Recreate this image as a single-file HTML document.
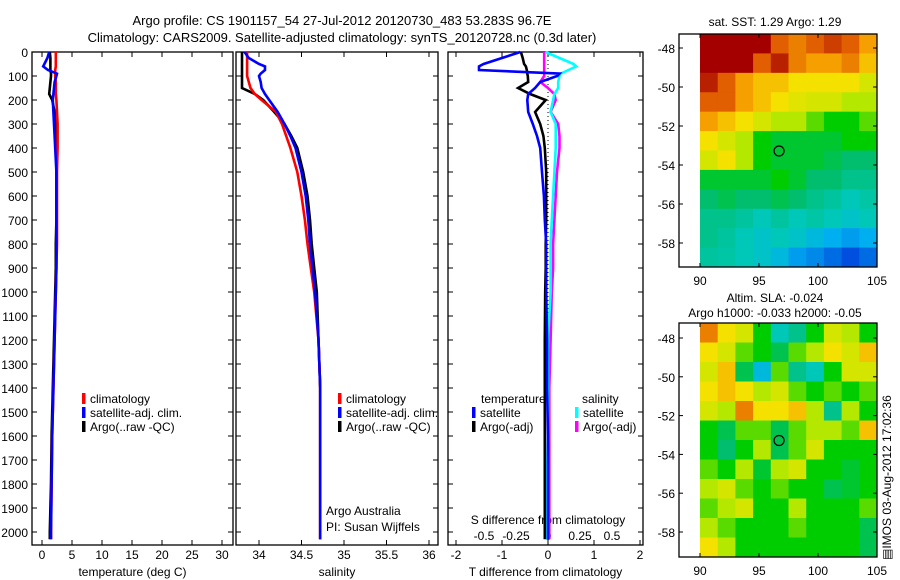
<!DOCTYPE html>
<html><head><meta charset="utf-8"><style>
body{margin:0;background:#fff;}
svg{display:block;font-family:"Liberation Sans",sans-serif;}
</style></head><body>
<svg id="chart" width="900" height="580" viewBox="0 0 900 580">
<text x="342" y="25" font-size="13" text-anchor="middle">Argo profile: CS 1901157_54 27-Jul-2012 20120730_483 53.283S 96.7E</text>
<text x="342" y="42" font-size="13" text-anchor="middle">Climatology: CARS2009. Satellite-adjusted climatology: synTS_20120728.nc (0.3d later)</text>
<g id="plots"></g>
</svg>
<script>
const depths=[0,25,50,60,75,90,100,125,150,175,200,250,300,350,400,500,600,700,800,900,1000,1200,1400,1600,1800,2000,2030];
const tempClim=[2.3,2.3,2.3,2.3,2.2,2.2,2.2,2.3,2.3,2.3,2.4,2.5,2.6,2.6,2.6,2.5,2.5,2.5,2.5,2.4,2.3,2.1,1.9,1.7,1.6,1.5,1.5];
const tempArgo=[1.3,1.4,1.4,1.4,1.4,1.5,1.5,1.4,1.3,1.2,1.7,2.1,2.3,2.4,2.4,2.4,2.4,2.4,2.3,2.3,2.2,2.0,1.8,1.6,1.5,1.3,1.3];
const tempSat=[1.2,0.9,0.4,0.2,1.0,2.5,2.4,2.1,2.0,1.9,1.8,1.9,2.0,2.1,2.2,2.4,2.4,2.4,2.4,2.4,2.3,2.1,1.9,1.7,1.6,1.5,1.5];
const salClim=[33.86,33.86,33.86,33.86,33.86,33.86,33.86,33.88,33.9,33.95,34.03,34.2,34.27,34.32,34.37,34.45,34.5,34.54,34.57,34.61,34.65,34.7,34.72,34.72,34.72,34.72,34.72];
const salArgo=[33.8,33.8,33.8,33.8,33.8,33.8,33.8,33.8,33.8,33.95,34.05,34.18,34.3,34.38,34.45,34.52,34.57,34.6,34.62,34.65,34.68,34.7,34.72,34.72,34.72,34.72,34.72];
const salSat=[33.83,33.88,34.0,34.07,34.07,34.02,34.0,34.02,34.03,34.07,34.12,34.22,34.3,34.37,34.43,34.5,34.55,34.58,34.6,34.63,34.66,34.7,34.72,34.72,34.72,34.72,34.72];
const dTsat=[-0.6,-1.0,-1.4,-1.5,-1.5,0.25,0.2,-0.17,-0.28,-0.43,-0.45,-0.43,-0.33,-0.24,-0.17,-0.13,-0.09,-0.07,-0.04,-0.04,-0.04,-0.02,-0.02,0,0,0,0];
const dTargo=[-0.59,-0.55,-0.52,-0.48,-0.46,-0.45,-0.44,-0.43,-0.65,-0.39,-0.05,-0.28,-0.17,-0.1,-0.07,-0.04,-0.04,-0.04,-0.05,-0.05,-0.06,-0.07,-0.07,-0.07,-0.07,-0.07,-0.07];
const dSsat=[-0.02,0.09,0.2,0.22,0.16,0.1,0.09,0.08,0.08,0.05,0.04,0.02,0.06,0.06,0.06,0.05,0.04,0.03,0.02,0.02,0.02,0.0,0.0,0.0,-0.01,-0.01,-0.01];
const dSargo=[-0.03,-0.03,-0.03,-0.03,-0.03,-0.03,-0.03,-0.06,0.0,0.05,0.06,0.02,0.08,0.09,0.09,0.07,0.06,0.05,0.04,0.04,0.03,0.02,0.01,0.01,0.01,0.01,0.01];
const depthTicks=[0,100,200,300,400,500,600,700,800,900,1000,1100,1200,1300,1400,1500,1600,1700,1800,1900,2000];
const tempTicks=[0,5,10,15,20,25,30];
const salTicks=[34,34.5,35,35.5,36];
const dTTicks=[-2,-1,0,1,2];
const dSTicks=[-0.5,-0.25,0,0.25,0.5];
const lonTicks=[90,95,100,105];
const latTicks=[-48,-50,-52,-54,-56,-58];
const sstGrid=[
[1,1,1,1,0.85,0.8,0.85,0.9,0.85,0.75],
[1,1,1,0.85,0.95,0.8,0.75,0.75,0.8,0.7],
[0.95,0.85,0.75,0.7,0.7,0.65,0.65,0.65,0.65,0.6],
[0.85,0.85,0.75,0.7,0.65,0.62,0.6,0.6,0.55,0.55],
[0.75,0.7,0.65,0.6,0.55,0.55,0.5,0.45,0.45,0.5],
[0.65,0.6,0.55,0.45,0.42,0.42,0.42,0.42,0.45,0.45],
[0.6,0.65,0.55,0.45,0.42,0.42,0.42,0.4,0.38,0.38],
[0.42,0.42,0.42,0.42,0.45,0.42,0.38,0.38,0.35,0.35],
[0.38,0.4,0.38,0.38,0.4,0.38,0.35,0.33,0.3,0.32],
[0.35,0.35,0.33,0.3,0.33,0.3,0.32,0.3,0.28,0.3],
[0.35,0.33,0.3,0.28,0.3,0.28,0.25,0.22,0.2,0.22],
[0.33,0.32,0.3,0.28,0.25,0.2,0.18,0.15,0.12,0.15]];
const slaGrid=[
[0.8,0.65,0.6,0.45,0.3,0.35,0.45,0.6,0.55,0.45],
[0.65,0.6,0.5,0.45,0.4,0.5,0.55,0.65,0.6,0.7],
[0.6,0.7,0.4,0.25,0.5,0.35,0.3,0.45,0.6,0.6],
[0.65,0.7,0.65,0.55,0.6,0.5,0.45,0.5,0.45,0.5],
[0.6,0.55,0.8,0.65,0.65,0.7,0.55,0.35,0.55,0.45],
[0.45,0.4,0.5,0.5,0.4,0.5,0.55,0.55,0.5,0.7],
[0.45,0.38,0.45,0.55,0.4,0.5,0.6,0.45,0.45,0.45],
[0.5,0.45,0.55,0.42,0.55,0.6,0.45,0.45,0.42,0.45],
[0.55,0.6,0.5,0.45,0.5,0.45,0.45,0.4,0.42,0.45],
[0.5,0.55,0.6,0.45,0.45,0.55,0.45,0.45,0.45,0.5],
[0.55,0.5,0.45,0.45,0.45,0.5,0.45,0.45,0.45,0.4],
[0.65,0.55,0.45,0.45,0.45,0.45,0.45,0.45,0.45,0.4]];
const floatLon=96.7, floatLat=-53.283;

const NS='http://www.w3.org/2000/svg';
const root=document.getElementById('plots');
function mk(tag,attrs,parent){const e=document.createElementNS(NS,tag);for(const k in attrs)e.setAttribute(k,attrs[k]);(parent||root).appendChild(e);return e;}
const yD=d=>52+d*0.24;
const TOP=52,BOT=545;

function panel(name,x0,x1,xs,ticks,fmt,labY,title,showDepth){
  const g=mk('g',{});
  
  
  const r=mk('rect',{x:x0,y:TOP,width:x1-x0,height:BOT-TOP,fill:'none',stroke:'#000','stroke-width':1.3},g);
  
  
  depthTicks.forEach(d=>{
    mk('line',{x1:x0,x2:x0+5,y1:yD(d),y2:yD(d),stroke:'#000'},g);
    mk('line',{x1:x1,x2:x1-5,y1:yD(d),y2:yD(d),stroke:'#000'},g);
    if(showDepth){const t=mk('text',{x:x0-4,y:yD(d)+5,'font-size':12,'text-anchor':'end'},g);t.textContent=d;
      
      }
  });
  ticks.forEach(v=>{
    const x=xs(v);
    mk('line',{x1:x,x2:x,y1:TOP,y2:TOP+5,stroke:'#000'},g);
    mk('line',{x1:x,x2:x,y1:BOT,y2:BOT-5,stroke:'#000'},g);
    if(labY){const t=mk('text',{x:x,y:labY,'font-size':12,'text-anchor':'middle'},g);t.textContent=fmt(v);
      
      }
  });
  const t=mk('text',{x:(x0+x1)/2,y:576,'font-size':12,'text-anchor':'middle'},g);t.textContent=title;
  
  
  return g;
}
function line(name,vals,xs,color,w){
  const p=mk('polyline',{points:vals.map((v,i)=>xs(v).toFixed(1)+','+yD(depths[i]).toFixed(1)).join(' '),fill:'none',stroke:color,'stroke-width':w||2.6,'stroke-linejoin':'miter'});
  
  
}
function legend(items,x,y0){
  items.forEach((it,i)=>{
    const y=y0+i*14;
    const r=mk('rect',{x:x,y:y-10,width:3.5,height:11,fill:it[1]});
    
    
    const t=mk('text',{x:x+8,y:y,'font-size':12});t.textContent=it[0];
    
    
  });
}
// panel 1 temperature
const xT=v=>42+v*6;
panel('temperature-panel',32,233,xT,tempTicks,v=>v,559,'temperature (deg C)',true);
line('temp-argo',tempArgo,xT,'#000');
line('temp-climatology',tempClim,xT,'#f00');
line('temp-satellite',tempSat,xT,'#00f');
legend([['climatology','#f00'],['satellite-adj. clim.','#00f'],['Argo(..raw -QC)','#000']],82,403);
// panel 2 salinity
const xS=v=>259+(v-34)*85;
panel('salinity-panel',236,438,xS,salTicks,v=>v,559,'salinity',false);
line('sal-argo',salArgo,xS,'#000');
line('sal-climatology',salClim,xS,'#f00');
line('sal-satellite',salSat,xS,'#00f');
legend([['climatology','#f00'],['satellite-adj. clim.','#00f'],['Argo(..raw -QC)','#000']],338,403);
[['Argo Australia',515],['PI: Susan Wijffels',531]].forEach(a=>{const t=mk('text',{x:326,y:a[1],'font-size':12});t.textContent=a[0];
  
  });
// panel 3 differences
const xdT=v=>548+v*46;
const xdS=v=>548+v*128;
panel('difference-panel',448,643,xdT,dTTicks,v=>v,559,'T difference from climatology',false);
dSTicks.forEach(v=>{const t=mk('text',{x:xdS(v),y:540,'font-size':12,'text-anchor':'middle'});t.textContent=v;
  
  });
{const t=mk('text',{x:548,y:524,'font-size':12,'text-anchor':'middle'});t.textContent='S difference from climatology';
  
  }
{const l=mk('line',{x1:xdT(0),x2:xdT(0),y1:TOP,y2:BOT,stroke:'#000','stroke-dasharray':'1,3'});
  
  }
line('sal-diff-argo',dSargo,xdS,'#f0f');
line('sal-diff-satellite',dSsat,xdS,'#0ff');
line('temp-diff-argo',dTargo,xdT,'#000');
line('temp-diff-satellite',dTsat,xdT,'#00f');
{const t=mk('text',{x:481,y:403,'font-size':12});t.textContent='temperature';}
{const t=mk('text',{x:582,y:403,'font-size':12});t.textContent='salinity';}
legend([['satellite','#00f'],['Argo(-adj)','#000']],472,417);
legend([['satellite','#0ff'],['Argo(-adj)','#f0f']],575,417);

// colormap
const cstops=[[0.1,[0,60,220]],[0.22,[0,175,240]],[0.3,[0,200,185]],[0.38,[0,190,110]],[0.45,[0,205,0]],[0.55,[180,232,0]],[0.65,[245,225,0]],[0.75,[245,160,0]],[0.85,[225,95,0]],[1,[165,0,0]]];
function cmap(v){
  if(v<=cstops[0][0])return 'rgb('+cstops[0][1]+')';
  for(let i=1;i<cstops.length;i++){if(v<=cstops[i][0]){const a=cstops[i-1],b=cstops[i],f=(v-a[0])/(b[0]-a[0]);
    return 'rgb('+a[1].map((c,k)=>Math.round(c+(b[1][k]-c)*f)).join(',')+')';}}
  return 'rgb('+cstops[cstops.length-1][1]+')';
}
function map(name,grid,x0,x1,y0,y1,lat48y,lat58y,titles){
  const g=mk('g',{});
  
  
  const xL=v=>700+(v-90)*(877-700)/15;
  const yL=v=>lat48y+(-48-v)*(lat58y-lat48y)/10;
  const latTop=-48-(y0-lat48y)/((lat58y-lat48y)/10);
  const latBot=-48-(y1-lat48y)/((lat58y-lat48y)/10);
  const nr=grid.length,nc=grid[0].length,dl=(latTop-latBot)/nr;
  grid.forEach((row,i)=>row.forEach((v,j)=>{
    const xa=xL(90+j*1.5),xb=xL(90+(j+1)*1.5),ya=yL(latTop-i*dl),yb=yL(latTop-(i+1)*dl);
    const c=mk('rect',{x:xa,y:ya,width:xb-xa+0.5,height:yb-ya+0.5,fill:cmap(v)},g);
    
    
  }));
  const f=mk('rect',{x:x0,y:y0,width:x1-x0,height:y1-y0,fill:'none',stroke:'#000','stroke-width':1.3},g);
  
  
  const m=mk('circle',{cx:xL(floatLon),cy:yL(floatLat),r:5,fill:'none',stroke:'#000','stroke-width':1.2},g);
  
  
  latTicks.forEach(v=>{const y=yL(v);
    mk('line',{x1:x0,x2:x0+4,y1:y,y2:y,stroke:'#000'},g);mk('line',{x1:x1,x2:x1-4,y1:y,y2:y,stroke:'#000'},g);
    const t=mk('text',{x:x0-4,y:y+5,'font-size':12,'text-anchor':'end'},g);t.textContent=v;
    
    });
  lonTicks.forEach(v=>{const x=xL(v);
    mk('line',{x1:x,x2:x,y1:y1,y2:y1-4,stroke:'#000'},g);mk('line',{x1:x,x2:x,y1:y0,y2:y0+4,stroke:'#000'},g);
    const t=mk('text',{x:x,y:y1+18,'font-size':12,'text-anchor':'middle'},g);t.textContent=v;
    
    });
  titles.forEach(tt=>{const t=mk('text',{x:tt[1],y:tt[2],'font-size':12,'text-anchor':'middle'},g);t.textContent=tt[0];
    
    });
}
map('sst-map',sstGrid,679,877,34,267,48,243,[['sat. SST: 1.29 Argo: 1.29',775,26]]);
map('sla-map',slaGrid,679,877,323,557,338,532,[['Altim. SLA: -0.024',775,302],['Argo h1000: -0.033 h2000: -0.05',775,317]]);
{const t=mk('text',{x:0,y:0,'font-size':12,transform:'translate(891,560) rotate(-90)'});t.textContent='\u25A4IMOS 03-Aug-2012 17:02:36';
  
  }
</script>
</body></html>
